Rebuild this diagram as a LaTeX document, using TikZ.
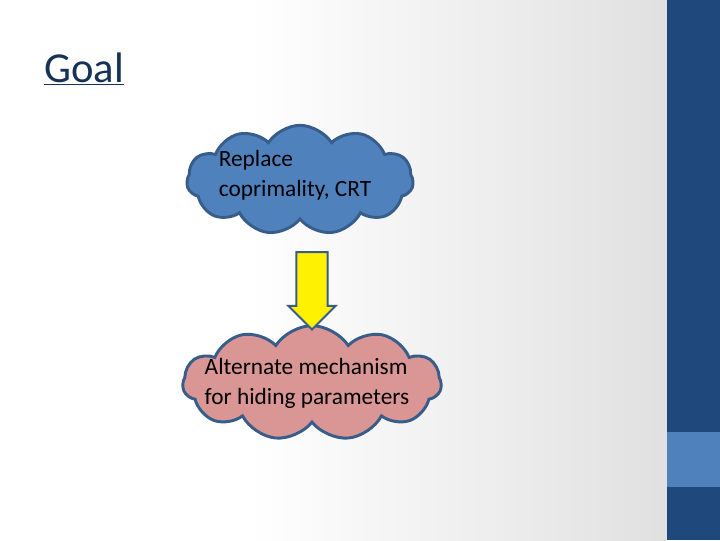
\documentclass[tikz,border=0pt]{standalone}
\usepackage{fontspec}
\setmainfont{Carlito}
\usetikzlibrary{shapes.symbols,shapes.arrows}
\definecolor{barblue}{HTML}{1F497D}
\definecolor{lightbar}{HTML}{4F81BD}
\definecolor{cloudblue}{HTML}{4F81BD}
\definecolor{cloudedge}{HTML}{385D8A}
\definecolor{cloudpink}{HTML}{D99694}
\tikzset{
  mycloud/.style={cloud, cloud puffs=11, cloud puff arc=115, cloud ignores aspect, draw=cloudedge, line width=2.2pt, inner sep=0pt},
  cloudtext/.style={align=left, font=\fontsize{17.5}{22.5}\selectfont, inner sep=0pt},
}
\begin{document}
\begin{tikzpicture}[x=0.75pt,y=-0.75pt]
\useasboundingbox (0,0) rectangle (720,540);
\fill[white] (0,0) rectangle (250,540);
\shade[left color=white, right color=black!12] (250,0) rectangle (667,540);
\fill[barblue] (667,0) rectangle (720,540);
\fill[lightbar] (667,432) rectangle (720,487);
\node[anchor=base west, font=\fontsize{32}{36}\selectfont, text=barblue!70!black, inner sep=0pt] (title) at (44,82) {\underline{Goal}};
\node[mycloud, fill=cloudblue, minimum width=170pt, minimum height=82pt] (c1) at (300,180) {};
\node[cloudtext] (t1) at (295,175) {Replace\\coprimality, CRT};
\node[mycloud, fill=cloudpink, minimum width=194pt, minimum height=86pt] (c2) at (312,383) {};
\node[cloudtext] (t2) at (307,383) {Alternate mechanism\\for hiding parameters};
\node[single arrow, shape border rotate=270, fill=yellow, draw=cloudedge, line width=1.5pt, minimum height=58pt, minimum width=34.5pt, single arrow head extend=6pt, inner sep=11pt] (ar) at (312,283) {};
\end{tikzpicture}
\end{document}
